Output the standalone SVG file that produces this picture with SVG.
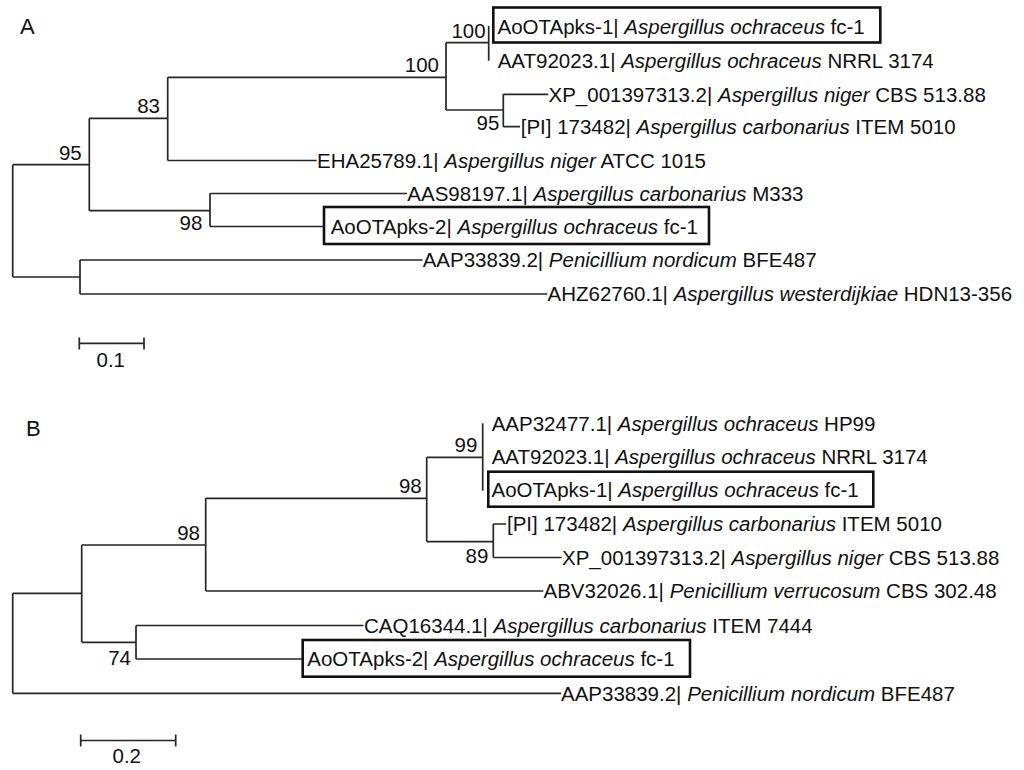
<svg xmlns="http://www.w3.org/2000/svg" width="1024" height="770" viewBox="0 0 1024 770">
<style>
text{font-family:"Liberation Sans",Arial,sans-serif;fill:#111}
.leaf{font-size:20.5px}
.bs{font-size:20.5px;text-anchor:end}
.panel{font-size:22px}
.scale{font-size:20.5px}
.it{font-style:italic}
.conn{fill:none;stroke:#262626;stroke-width:1.7}
.box{fill:none;stroke:#111;stroke-width:2.6}
</style>
<rect width="1024" height="770" fill="#fff"/>
<text class="panel" x="20" y="33.5">A</text>
<text class="panel" x="26" y="435.5">B</text>

<g id="connectors" class="conn">
<path d="M12.7 164.7V277M12.7 164.7H89.3M12.7 277H80"/>
<path d="M89.3 118.3V210.7M89.3 118.3H167.7M89.3 210.7H210"/>
<path d="M167.7 77.3V160.5M167.7 77.3H446M167.7 160.5H316.7"/>
<path d="M446 42.7V110M446 42.7H488.7M446 110H503.3"/>
<path d="M488.7 26V60.7"/>
<path d="M503.3 94.3V126.7M503.3 94.3H548.3M503.3 126.7H520"/>
<path d="M210 193.5V226.5M210 193.5H407M210 226.5H324"/>
<path d="M80 260V294M80 260H422.5M80 294H547.3"/>
<path d="M12.7 593.3V693.3M12.7 593.3H81.7M12.7 693.3H561"/>
<path d="M81.7 545V642.3M81.7 545H205.7M81.7 642.3H136"/>
<path d="M205.7 498.3V591M205.7 498.3H426.7M205.7 591H543.3"/>
<path d="M426.7 457.3V541.7M426.7 457.3H482.7M426.7 541.7H493.3"/>
<path d="M482.7 423.3V490.7"/>
<path d="M493.3 524V557.5M493.3 524H506M493.3 557.5H561.7"/>
<path d="M136 625.5V659M136 625.5H363.5M136 659H302.7"/>
<path d="M79.3 343.3H144M79.3 337.5V349.5M144 337.5V349.5"/>
<path d="M80.7 740.5H175.7M80.7 734.5V746.5M175.7 734.5V746.5"/>
</g>

<g id="bootstrapA">
<text class="bs" x="485.7" y="37.7">100</text>
<text class="bs" x="439" y="71.7">100</text>
<text class="bs" x="499.3" y="130">95</text>
<text class="bs" x="160" y="113.3">83</text>
<text class="bs" x="81.7" y="160">95</text>
<text class="bs" x="202.3" y="230">98</text>
</g>
<g id="bootstrapB">
<text class="bs" x="477.3" y="451.7">99</text>
<text class="bs" x="421.7" y="493.3">98</text>
<text class="bs" x="488.3" y="563.3">89</text>
<text class="bs" x="200" y="540">98</text>
<text class="bs" x="131" y="665">74</text>
</g>

<g id="scaleA"><text class="scale" x="96.5" y="366.7">0.1</text></g>
<g id="scaleB"><text class="scale" x="112.5" y="762.7">0.2</text></g>

<g id="A-AoOTApks-1">
<rect class="box" x="493.3" y="7.5" width="387" height="35"/>
<text class="leaf" x="497.5" y="34.3">AoOTApks-1| <tspan class="it">Aspergillus ochraceus</tspan> fc-1</text>
</g>
<g id="A-AAT92023">
<text class="leaf" x="497.7" y="67.8">AAT92023.1| <tspan class="it">Aspergillus ochraceus</tspan> NRRL 3174</text>
</g>
<g id="A-XP001397313">
<text class="leaf" x="548.5" y="101.8">XP_001397313.2| <tspan class="it">Aspergillus niger</tspan> CBS 513.88</text>
</g>
<g id="A-PI173482">
<text class="leaf" x="520.7" y="134.1">[PI] 173482| <tspan class="it">Aspergillus carbonarius</tspan> ITEM 5010</text>
</g>
<g id="A-EHA25789">
<text class="leaf" x="317" y="167.6">EHA25789.1| <tspan class="it">Aspergillus niger</tspan> ATCC 1015</text>
</g>
<g id="A-AAS98197">
<text class="leaf" x="407.3" y="200.8">AAS98197.1| <tspan class="it">Aspergillus carbonarius</tspan> M333</text>
</g>
<g id="A-AoOTApks-2">
<rect class="box" x="324" y="207" width="385" height="37"/>
<text class="leaf" x="330.7" y="233.8">AoOTApks-2| <tspan class="it">Aspergillus ochraceus</tspan> fc-1</text>
</g>
<g id="A-AAP33839">
<text class="leaf" x="422.7" y="267.3">AAP33839.2| <tspan class="it">Penicillium nordicum</tspan> BFE487</text>
</g>
<g id="A-AHZ62760">
<text class="leaf" x="547.5" y="301.3">AHZ62760.1| <tspan class="it">Aspergillus westerdijkiae</tspan> HDN13-356</text>
</g>

<g id="B-AAP32477">
<text class="leaf" x="491.7" y="431">AAP32477.1| <tspan class="it">Aspergillus ochraceus</tspan> HP99</text>
</g>
<g id="B-AAT92023">
<text class="leaf" x="491.7" y="464.4">AAT92023.1| <tspan class="it">Aspergillus ochraceus</tspan> NRRL 3174</text>
</g>
<g id="B-AoOTApks-1">
<rect class="box" x="488.3" y="471.7" width="385" height="35"/>
<text class="leaf" x="491.5" y="497.3">AoOTApks-1| <tspan class="it">Aspergillus ochraceus</tspan> fc-1</text>
</g>
<g id="B-PI173482">
<text class="leaf" x="507" y="531">[PI] 173482| <tspan class="it">Aspergillus carbonarius</tspan> ITEM 5010</text>
</g>
<g id="B-XP001397313">
<text class="leaf" x="562" y="564.6">XP_001397313.2| <tspan class="it">Aspergillus niger</tspan> CBS 513.88</text>
</g>
<g id="B-ABV32026">
<text class="leaf" x="543.5" y="598.2">ABV32026.1| <tspan class="it">Penicillium verrucosum</tspan> CBS 302.48</text>
</g>
<g id="B-CAQ16344">
<text class="leaf" x="364" y="632.6">CAQ16344.1| <tspan class="it">Aspergillus carbonarius</tspan> ITEM 7444</text>
</g>
<g id="B-AoOTApks-2">
<rect class="box" x="302.7" y="640" width="387.3" height="36.7"/>
<text class="leaf" x="307.3" y="666.2">AoOTApks-2| <tspan class="it">Aspergillus ochraceus</tspan> fc-1</text>
</g>
<g id="B-AAP33839">
<text class="leaf" x="561" y="700.6">AAP33839.2| <tspan class="it">Penicillium nordicum</tspan> BFE487</text>
</g>
</svg>
